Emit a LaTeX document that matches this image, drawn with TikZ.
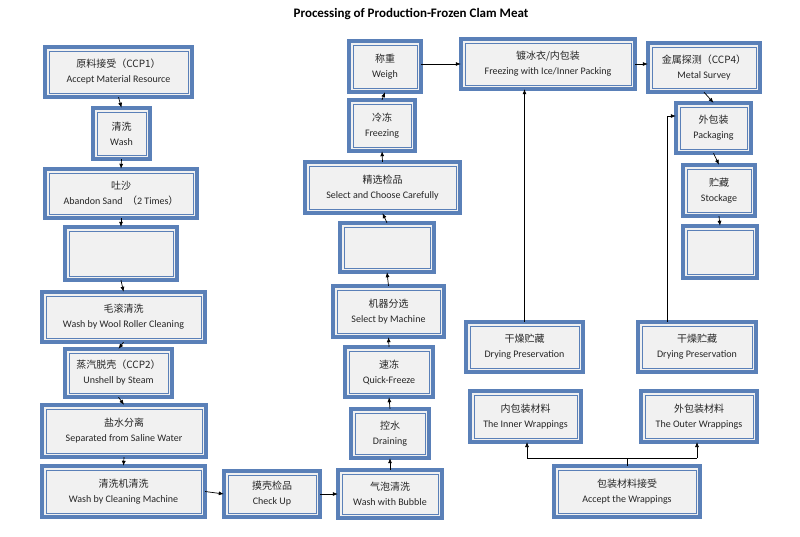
\documentclass[tikz,border=0pt]{standalone}
\usepackage{fontspec}
\setmainfont{Carlito}
\newfontfamily\cjk{Noto Sans CJK SC}
\usetikzlibrary{arrows.meta}
\definecolor{bb}{HTML}{5A80B8}
\definecolor{bg}{HTML}{F1F1F1}
\tikzset{x=1pt,y=-1pt,
 outerbox/.style={draw=bb,line width=3.5pt,fill=bg},
 innerbox/.style={draw=bb,line width=0.8pt},
 lbl/.style={align=center,font=\fontsize{10}{15}\selectfont,text=black!85},
 arr/.style={-{Latex[length=5pt,width=4pt]},line width=0.7pt}}
\newcommand\bx[6]{%
 \path[outerbox] (#2,#3) rectangle (#4,#5);
 \path[innerbox] (#2+4,#3+4) rectangle (#4-4,#5-4);
 \node[lbl,minimum width=#4-#2,minimum height=#5-#3,inner sep=0pt] (#1) at ({(#2+#4)/2},{(#3+#5)/2}) {#6};}
\begin{document}
\begin{tikzpicture}
\useasboundingbox[fill=white] (0,0) rectangle (800,536);
\node[font=\fontsize{13}{15}\selectfont\bfseries] (title) at (411,14) {Processing of Production-Frozen Clam Meat};
\bx{A}{45}{47}{192}{97}{{\cjk 原料接受（CCP1）}\\Accept Material Resource}
\bx{B}{93}{108}{150}{159}{{\cjk 清洗}\\Wash}
\bx{C}{45}{169}{197}{218}{{\cjk 吐沙}\\Abandon Sand \ {\cjk （}2 Times{\cjk ）}}
\bx{D}{65}{227}{177}{280}{}
\bx{E}{42}{292}{205}{342}{{\cjk 毛滚清洗}\\Wash by Wool Roller Cleaning}
\bx{F}{65}{349}{172}{397}{{\cjk 蒸汽脱壳（CCP2）}\\Unshell by Steam}
\bx{G}{42}{405}{206}{457}{{\cjk 盐水分离}\\Separated from Saline Water}
\bx{H}{42}{466}{205}{517}{{\cjk 清洗机清洗}\\Wash by Cleaning Machine}
\bx{I}{224}{471}{320}{517}{{\cjk 摸壳检品}\\Check Up}
\bx{J}{338}{470}{442}{518}{{\cjk 气泡清洗}\\Wash with Bubble}
\bx{K}{351}{409}{429}{458}{{\cjk 控水}\\Draining}
\bx{L}{345}{347}{433}{397}{{\cjk 速冻}\\Quick-Freeze}
\bx{M}{333}{286}{444}{337}{{\cjk 机器分选}\\Select by Machine}
\bx{N}{340}{223}{434}{272}{}
\bx{O}{305}{162}{460}{213}{{\cjk 精选检品}\\Select and Choose Carefully}
\bx{P}{349}{100}{415}{151}{{\cjk 冷冻}\\Freezing}
\bx{Q}{349}{41}{421}{92}{{\cjk 称重}\\Weigh}
\bx{R}{461}{39}{635}{89}{{\cjk 镀冰衣/内包装}\\Freezing with Ice/Inner Packing}
\bx{S}{648}{43}{760}{92}{{\cjk 金属探测（CCP4）}\\Metal Survey}
\bx{T}{676}{103}{751}{153}{{\cjk 外包装}\\Packaging}
\bx{U}{683}{165}{755}{216}{{\cjk 贮藏}\\Stockage}
\bx{V}{683}{226}{757}{278}{}
\bx{W}{466}{322}{583}{372}{{\cjk 干燥贮藏}\\Drying Preservation}
\bx{X}{638}{322}{756}{372}{{\cjk 干燥贮藏}\\Drying Preservation}
\bx{Y}{470}{391}{581}{442}{{\cjk 内包装材料}\\The Inner Wrappings}
\bx{Z}{641}{391}{757}{442}{{\cjk 外包装材料}\\The Outer Wrappings}
\bx{AA}{554}{466}{700}{517}{{\cjk 包装材料接受}\\Accept the Wrappings}
\foreach \a/\b in {A/B,B/C,C/D,D/E,E/F,F/G,G/H,S/T,T/U,U/V}
  \draw[arr] (\a.south) -- (\b.north);
\foreach \a/\b in {J/K,K/L,L/M,M/N,N/O,O/P,P/Q}
  \draw[arr] (\a.north) -- (\b.south);
\draw[arr] (H.east) -- (I.west);
\draw[arr] (I.east) -- (J.west);
\draw[arr] (Q.east|-R.west) -- (R.west);
\draw[arr] (R.east) -- (S.west|-R.east);
\draw[arr] (W.north) -- (W.north|-R.south);
\coordinate (xt) at (667,116);
\draw[arr] (X.north-|xt) -- (xt) -- (xt-|T.west);
\coordinate (j) at (627,458);
\draw[line width=0.7pt] (AA.north-|j) -- (j);
\draw[line width=0.7pt] (527,458) -- (697,458);
\draw[arr] (527,458) -- (527,442);
\draw[arr] (697,458) -- (697,442);
\end{tikzpicture}
\end{document}
